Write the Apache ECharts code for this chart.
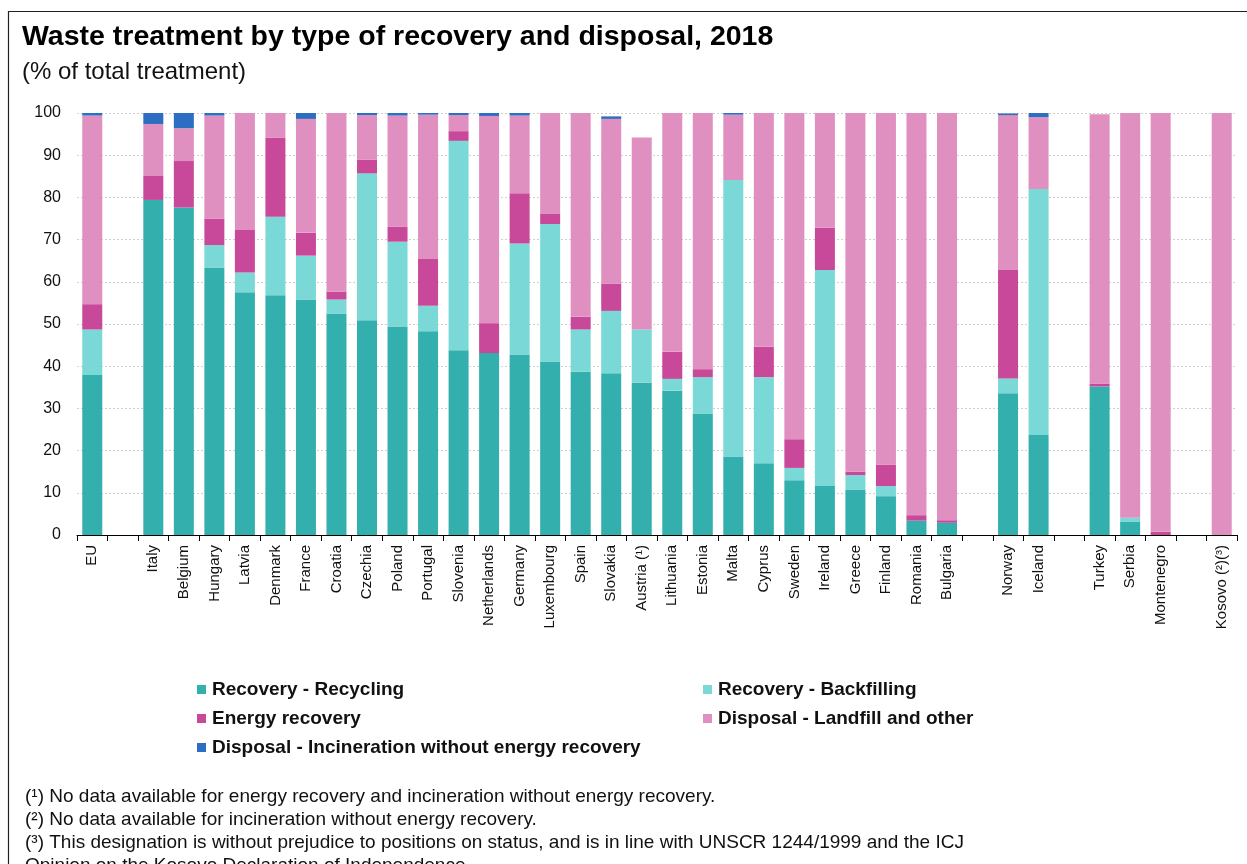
<!DOCTYPE html>
<html><head><meta charset="utf-8">
<script src="https://cdn.jsdelivr.net/npm/echarts@6/dist/echarts.min.js"></script>
<style>html,body{margin:0;padding:0;background:#fff}#c{width:1247px;height:864px}</style>
</head><body><div id="c"></div>
<script>
const categories = ['EU',' ','Italy','Belgium','Hungary','Latvia','Denmark','France','Croatia','Czechia','Poland','Portugal','Slovenia','Netherlands','Germany','Luxembourg','Spain','Slovakia','Austria (¹)','Lithuania','Estonia','Malta','Cyprus','Sweden','Ireland','Greece','Finland','Romania','Bulgaria','  ','Norway','Iceland','   ','Turkey','Serbia','Montenegro','    ','Kosovo (²)(³)'];
const recycling   = [37.9,null,79.4,77.6,63.4,57.5,56.8,55.8,52.5,50.9,49.4,48.3,43.8,43.1,42.8,41.1,38.7,38.3,36.1,34.2,28.8,18.6,17.0,13.0,11.6,10.8,9.2,3.4,2.9,null,33.6,23.7,null,35.2,3.2,0,null,0];
const backfilling = [10.8,null,0,0,5.3,4.7,18.6,10.4,3.3,34.8,20.1,6.0,49.6,0,26.3,32.6,10.0,14.8,12.6,2.8,8.6,65.5,20.4,2.9,51.2,3.4,2.4,0,0,null,3.5,58.3,null,0,0.9,0,null,0];
const energy      = [6.0,null,5.7,11.0,6.3,10.1,18.7,5.4,1.9,3.2,3.6,11.1,2.3,7.1,11.9,2.5,3.0,6.5,0,6.4,1.9,0,7.2,6.8,10.0,0.8,5.1,1.3,0.6,null,25.7,0,null,0.7,0,0.8,null,0];
const landfill    = [44.7,null,12.3,7.8,24.4,27.7,5.9,27.0,42.3,10.6,26.3,34.2,3.8,49.1,18.4,23.8,48.3,39.0,45.5,56.6,60.7,15.5,55.4,77.3,27.2,85.0,83.3,95.3,96.5,null,36.7,17.0,null,63.8,95.9,99.2,null,100];
const incineration= [0.6,null,2.6,3.6,0.6,0,0,1.4,0,0.5,0.6,0.4,0.5,0.7,0.6,0,0,0.6,0,0,0,0.4,0,0,0,0,0,0,0,null,0.4,1.0,null,0,0,0,null,0];
const yTicks = [0,10,20,30,40,50,60,70,80,90,100];
const seriesNames = ['Recovery - Recycling','Recovery - Backfilling','Energy recovery','Disposal - Landfill and other','Disposal - Incineration without energy recovery'];
const colors = ['#33afad','#7ad8d7','#c8489a','#df90c0','#2d6ec3'];
const footnotes = [
 '(¹) No data available for energy recovery and incineration without energy recovery.',
 '(²) No data available for incineration without energy recovery.',
 '(³) This designation is without prejudice to positions on status, and is in line with UNSCR 1244/1999 and the ICJ',
 'Opinion on the Kosovo Declaration of Independence.'
];
const values = [recycling, backfilling, energy, landfill, incineration];
const FONT = '"Liberation Sans", Arial, sans-serif';
const chart = echarts.init(document.getElementById('c'));
chart.setOption({
  animation: false,
  textStyle: {fontFamily: FONT},
  title: [
    {text: 'Waste treatment by type of recovery and disposal, 2018', left: 17, top: 18,
     textStyle: {fontFamily: FONT, fontSize: 28.5, fontWeight: 'bold', color: '#000'}},
    {text: '(% of total treatment)', left: 17, top: 55,
     textStyle: {fontFamily: FONT, fontSize: 24, fontWeight: 'normal', color: '#111'}}
  ].concat(footnotes.map((t, i) => ({text: t, left: 20, top: 782 + i * 23,
     textStyle: {fontFamily: FONT, fontSize: 19, fontWeight: 'normal', color: '#111'}}))),
  legend: [
    {data: [seriesNames[0], seriesNames[2], seriesNames[4]], orient: 'vertical', left: 192, top: 675,
     itemWidth: 9, itemHeight: 9, itemGap: 10, icon: 'rect',
     textStyle: {fontFamily: FONT, fontSize: 19, fontWeight: 'bold', color: '#111', padding: [0,0,0,1]}},
    {data: [seriesNames[1], seriesNames[3]], orient: 'vertical', left: 698, top: 675,
     itemWidth: 9, itemHeight: 9, itemGap: 10, icon: 'rect',
     textStyle: {fontFamily: FONT, fontSize: 19, fontWeight: 'bold', color: '#111', padding: [0,0,0,1]}}
  ],
  graphic: [{type: 'rect', left: 6, top: 9, shape: {width: 1300, height: 900},
     style: {fill: 'none', stroke: '#222', lineWidth: 1.2}, silent: true}],
  grid: {left: 77, right: 10, top: 113, bottom: 329, containLabel: false},
  xAxis: {type: 'category', data: categories,
    axisLine: {lineStyle: {color: '#000', width: 1}},
    axisTick: {show: true, length: 6, lineStyle: {color: '#000'}},
    axisLabel: {rotate: 90, fontSize: 15, color: '#111', fontFamily: FONT, margin: 10, interval: 0}},
  yAxis: {type: 'value', min: yTicks[0], max: yTicks[yTicks.length-1], interval: 10,
    axisLine: {show: false}, axisTick: {show: false},
    axisLabel: {fontSize: 16, color: '#111', fontFamily: FONT, margin: 16},
    splitLine: {lineStyle: {color: '#cfcfcf', type: [2, 2], width: 1}}},
  series: seriesNames.map((n, i) => ({name: n, type: 'bar', stack: 'total', barWidth: 20,
    data: values[i], itemStyle: {color: colors[i]}}))
});
</script></body></html>
